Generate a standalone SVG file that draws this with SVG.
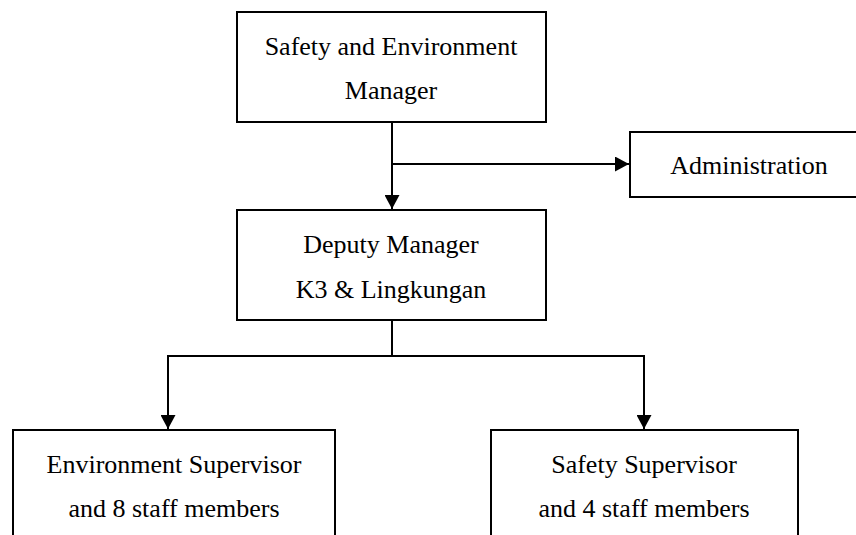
<svg xmlns="http://www.w3.org/2000/svg" width="856" height="535" viewBox="0 0 856 535">
  <style>
    .box { fill: #ffffff; stroke: #000000; stroke-width: 2; }
    .lbl { font-family: "Liberation Serif", "Times New Roman", serif; font-size: 26px; fill: #000000; text-anchor: middle; }
    .wire { fill: none; stroke: #000000; stroke-width: 2; }
  </style>
  <defs>
    <marker id="arrow" viewBox="0 0 14 15" refX="14" refY="7.5" markerWidth="14" markerHeight="15" markerUnits="userSpaceOnUse" orient="auto">
      <path d="M0,0 L14,7.5 L0,15 Z" fill="#000000"/>
    </marker>
  </defs>

  <rect width="856" height="535" fill="#ffffff"/>

  <g id="connectors">
    <!-- manager down to deputy -->
    <path class="wire" d="M392,122 V209" marker-end="url(#arrow)"/>
    <!-- branch to administration -->
    <path class="wire" d="M392,164 H629" marker-end="url(#arrow)"/>
    <!-- deputy down to the supervisor branch -->
    <path class="wire" d="M392,320 V356"/>
    <path class="wire" d="M168,356 H644"/>
    <path class="wire" d="M168,355 V429" marker-end="url(#arrow)"/>
    <path class="wire" d="M644,355 V429" marker-end="url(#arrow)"/>
  </g>

  <g id="manager">
    <rect class="box" x="237" y="12" width="309" height="110"/>
    <text class="lbl" x="391" y="55">Safety and Environment</text>
    <text class="lbl" x="391" y="99">Manager</text>
  </g>

  <g id="administration">
    <rect class="box" x="630" y="132" width="240" height="65"/>
    <text class="lbl" x="749" y="174">Administration</text>
  </g>

  <g id="deputy">
    <rect class="box" x="237" y="210" width="309" height="110"/>
    <text class="lbl" x="391" y="253">Deputy Manager</text>
    <text class="lbl" x="391" y="298">K3 &amp; Lingkungan</text>
  </g>

  <g id="environment-supervisor">
    <rect class="box" x="13" y="430" width="322" height="120"/>
    <text class="lbl" x="174" y="473">Environment Supervisor</text>
    <text class="lbl" x="174" y="517">and 8 staff members</text>
  </g>

  <g id="safety-supervisor">
    <rect class="box" x="491" y="430" width="307" height="120"/>
    <text class="lbl" x="644" y="473">Safety Supervisor</text>
    <text class="lbl" x="644" y="517">and 4 staff members</text>
  </g>
</svg>
